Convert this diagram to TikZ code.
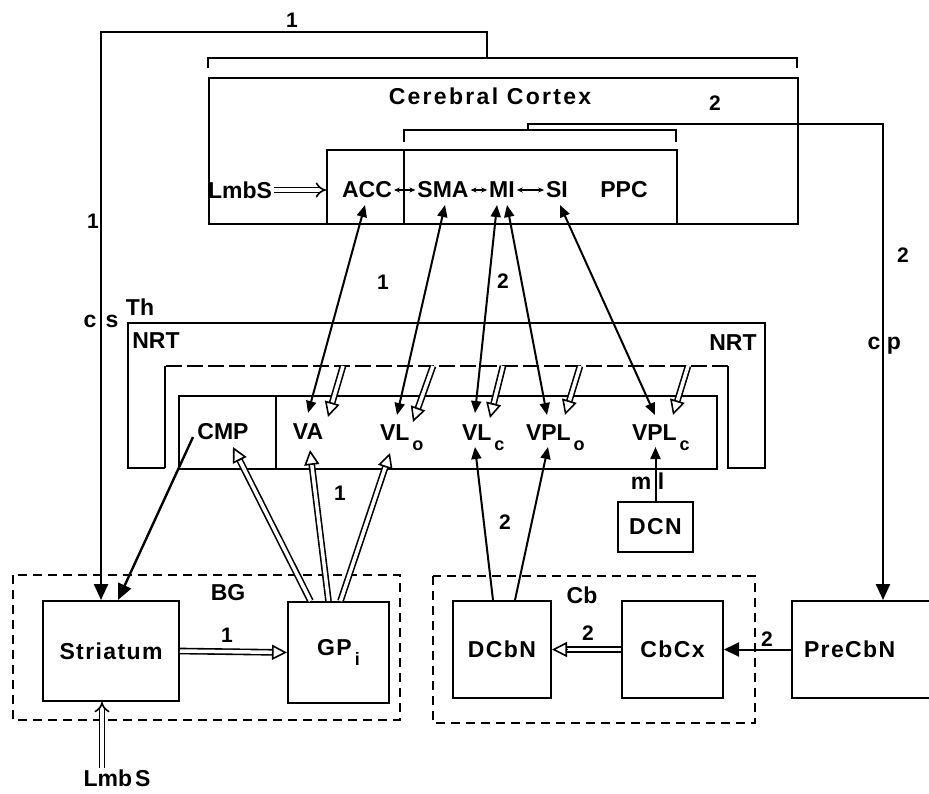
\documentclass[tikz,border=0pt]{standalone}
\usepackage{fontspec}
\setmainfont{Liberation Sans}
\usetikzlibrary{arrows.meta,calc}

\newcommand\lowsub[1]{\kern3pt\raisebox{-10pt}{\fontsize{18}{18}\selectfont #1}}
\newcommand\hollowarrow[2]{%
  \draw[hline] (#1) -- (#2);
  \draw[htip] ($(#2)!15pt!(#1)$) -- (#2);}

\begin{document}
\begin{tikzpicture}[x=1pt,y=-1pt,line width=2pt,
    lbl/.style={font=\bfseries\fontsize{23}{26}\selectfont,inner sep=1pt},
    wide/.style={inner sep=1pt,font=\bfseries\fontsize{23}{26}\selectfont\addfontfeature{LetterSpace=6}},
    num/.style={font=\bfseries\fontsize{21}{24}\selectfont,inner sep=1pt},
    box/.style 2 args={draw,wide,minimum width=#1,minimum height=#2},
    region/.style={line width=1.5pt,dash pattern=on 9pt off 6pt},
    arr/.style={-{Triangle[length=12pt,width=10pt]},line width=2pt},
    bi/.style={{Triangle[length=12pt,width=10pt]}-{Triangle[length=12pt,width=10pt]},line width=2pt},
    big/.style={-{Triangle[length=16pt,width=14pt]},line width=2.4pt},
    tiny/.style={{Stealth[length=6pt,width=5pt]}-{Stealth[length=6pt,width=5pt]},line width=1.3pt},
    hline/.style={double,double distance=3.5pt,line width=1.6pt,shorten >=14pt},
    htip/.style={-{Triangle[open,length=15pt,width=15pt]},line width=1.6pt},
    dbl/.style={double,double distance=3.5pt,line width=1.6pt,-{Implies}}]
\useasboundingbox (0,0) rectangle (929,793);

% cortex
\draw (208,68) -- (208,58) -- (797,58) -- (797,68);
\coordinate (brk1) at (487,58);
\node[draw,minimum width=589pt,minimum height=146pt,anchor=north west] (cortex) at (208,77) {};
\node[inner sep=1pt,font=\bfseries\fontsize{23}{26}\selectfont\addfontfeature{LetterSpace=10}] (cc) at (490,96) {Cerebral Cortex};
\draw (404,142) -- (404,130) -- (676,130) -- (676,142);
\coordinate (brk2) at (528,130);
\node[draw,minimum width=350pt,minimum height=74pt,anchor=north west] (sens) at (326,149) {};
\draw (404,149) -- (404,223);
\node[lbl] (lmbs) at (240,190) {LmbS};
\node[lbl] (acc) at (367,190) {ACC};
\node[lbl] (sma) at (443,190) {SMA};
\node[lbl] (mi) at (502,190) {MI};
\node[lbl] (si) at (557,190) {SI};
\node[lbl] (ppc) at (624,190) {PPC};
\draw[dbl] (lmbs) -- (lmbs -| sens.west);
\draw[tiny] (acc) -- (sma);
\draw[tiny] (sma) -- (mi);
\draw[tiny] (mi) -- (si);

% thalamus
\node[lbl] (th) at (140,307) {Th};
\draw (165,468) -- (128,468) -- (128,323) -- (765,323) -- (765,468) -- (728,468) -- (728,366);
\draw[dash pattern=on 16pt off 5pt] (728,366) -- (165,366);
\draw (165,366) -- (165,468);
\node[lbl] (nrt-l) at (156,341) {NRT};
\node[lbl] (nrt-r) at (733,343) {NRT};
\node[draw,minimum width=538pt,minimum height=73pt,anchor=north west] (thal) at (178,395) {};
\draw (276,395) -- (276,468);
\node[lbl] (cmp) at (223,432) {CMP};
\node[lbl] (va) at (308,432) {VA};
\node[lbl,anchor=base west] (vlo) at (378,440) {VL\lowsub{o}};
\node[lbl,anchor=base west] (vlc) at (460,440) {VL\lowsub{c}};
\node[lbl,anchor=base west] (vplo) at (524,440) {VPL\lowsub{o}};
\node[lbl,anchor=base west] (vplc) at (630,440) {VPL\lowsub{c}};

% basal ganglia and cerebellum
\draw[region] (13,575) rectangle (400,720);
\node[lbl] (bg) at (228,593) {BG};
\node[box={136pt}{100pt}] (striatum) at (111,651) {Striatum};
\node[box={101pt}{101pt}] (gpi) at (338.5,652.5) {GP\lowsub{i}};
\node[lbl] (lmbs-b) at (117,778) {Lmb\kern3pt S};
\draw[region] (433,576) rectangle (755,723);
\node[lbl] (cb) at (582,595) {Cb};
\node[box={98pt}{97pt}] (dcbn) at (502,649.5) {DCbN};
\node[box={101pt}{97pt}] (cbcx) at (672.5,649.5) {CbCx};
\node[draw,wide,minimum height=97pt,text width=120pt,inner xsep=12pt,anchor=west] (precbn) at (791,649.5) {PreCbN};
\node[box={75pt}{50pt}] (dcn) at (655.5,527) {DCN};

% long loops
\draw[big] (brk1) -- ++(0,-26) -| ([xshift=-10pt]striatum.north);
\draw[big] (brk2) -- ++(0,-6) -| ([xshift=19pt]precbn.north);

% cortex <-> thalamus
\coordinate (va-top) at ($(va)+(0,-19)$);
\coordinate (vlo-top) at ($(vlo.base west)+(19,-25)$);
\coordinate (vlc-top) at ($(vlc.base west)+(15,-27)$);
\coordinate (vplo-top) at ($(vplo.base west)+(23,-25)$);
\coordinate (vplc-top) at ($(vplc.base west)+(25,-25)$);
\draw[bi] ($(acc)+(-2,15)$) -- (va-top);
\draw[bi] ($(sma)+(2,15)$) -- (vlo-top);
\draw[bi] ($(mi)+(-5,15)$) -- (vlc-top);
\draw[bi] ($(mi)+(5,15)$) -- (vplo-top);
\draw[bi] ($(si)+(3,15)$) -- (vplc-top);

% NRT -> thalamus
\coordinate (nrt1) at (343,366);
\coordinate (nrt2) at (433,366);
\coordinate (nrt3) at (503,366);
\coordinate (nrt4) at (580,366);
\coordinate (nrt5) at (688,366);
\coordinate (va-r) at ($(va)+(20,-15)$);
\coordinate (vlo-r) at ($(vlo.base west)+(35,-18)$);
\coordinate (vlc-r) at ($(vlc.base west)+(30,-22)$);
\coordinate (vplo-r) at ($(vplo.base west)+(41,-25)$);
\coordinate (vplc-r) at ($(vplc.base west)+(43,-25)$);
\hollowarrow{nrt1}{va-r}
\hollowarrow{nrt2}{vlo-r}
\hollowarrow{nrt3}{vlc-r}
\hollowarrow{nrt4}{vplo-r}
\hollowarrow{nrt5}{vplc-r}

% GPi -> thalamus
\coordinate (g1) at ([xshift=-28pt]gpi.north);
\coordinate (g2) at ([xshift=-10pt]gpi.north);
\coordinate (g3) at ([xshift=2pt]gpi.north);
\coordinate (cmp-low) at ($(cmp)+(10,15)$);
\coordinate (va-low) at ($(va)+(2,18)$);
\coordinate (vlo-low) at ($(vlo.base west)+(12,13)$);
\hollowarrow{g1}{cmp-low}
\hollowarrow{g2}{va-low}
\hollowarrow{g3}{vlo-low}
\draw[big] ($(cmp)+(-30,5)$) -- ([xshift=7pt]striatum.north);

% cerebellar inputs
\coordinate (vlc-low) at ($(vlc.base west)+(15,7)$);
\coordinate (vplo-low) at ($(vplo.base west)+(24,7)$);
\coordinate (vplc-low) at ($(vplc.base west)+(25,7)$);
\draw[arr] ([xshift=-9pt]dcbn.north) -- (vlc-low);
\draw[arr] ([xshift=13pt]dcbn.north) -- (vplo-low);
\draw[arr] (dcn.north) -- (dcn.north |- vplc-low);

% bottom row
\hollowarrow{striatum.east}{gpi.west}
\hollowarrow{cbcx.west}{dcbn.east}
\draw[-{Triangle[length=15pt,width=14pt]},line width=2pt] (precbn.west) -- (cbcx.east);
\draw[dbl] ([xshift=-15pt]lmbs-b.north) -- ([xshift=-9pt]striatum.south);

% numbers and tract labels
\node[num] (one-top) at (292,20) {1};
\node[num] (one-left) at (93,221) {1};
\node[lbl,anchor=base] (cs-c) at (90,327) {c};
\node[lbl,anchor=base] (cs-s) at (112,327) {s};
\node[num] (two-top) at (715,103) {2};
\node[num] (two-right) at (903,255) {2};
\node[lbl,anchor=base] (cp-c) at (874,349) {c};
\node[lbl,anchor=base] (cp-p) at (894,349) {p};
\node[num] (one-mid) at (383,282) {1};
\node[num] (two-mid) at (503,281) {2};
\node[num] (one-gp) at (340,493) {1};
\node[num] (two-cb) at (505,522) {2};
\node[lbl,anchor=base] (ml-m) at (641,489) {m};
\node[lbl,anchor=base] (ml-l) at (661,489) {l};
\node[num] (one-str) at (227,635) {1};
\node[num] (two-cx) at (588,633) {2};
\node[num] (two-pre) at (767,639) {2};
\end{tikzpicture}
\end{document}
